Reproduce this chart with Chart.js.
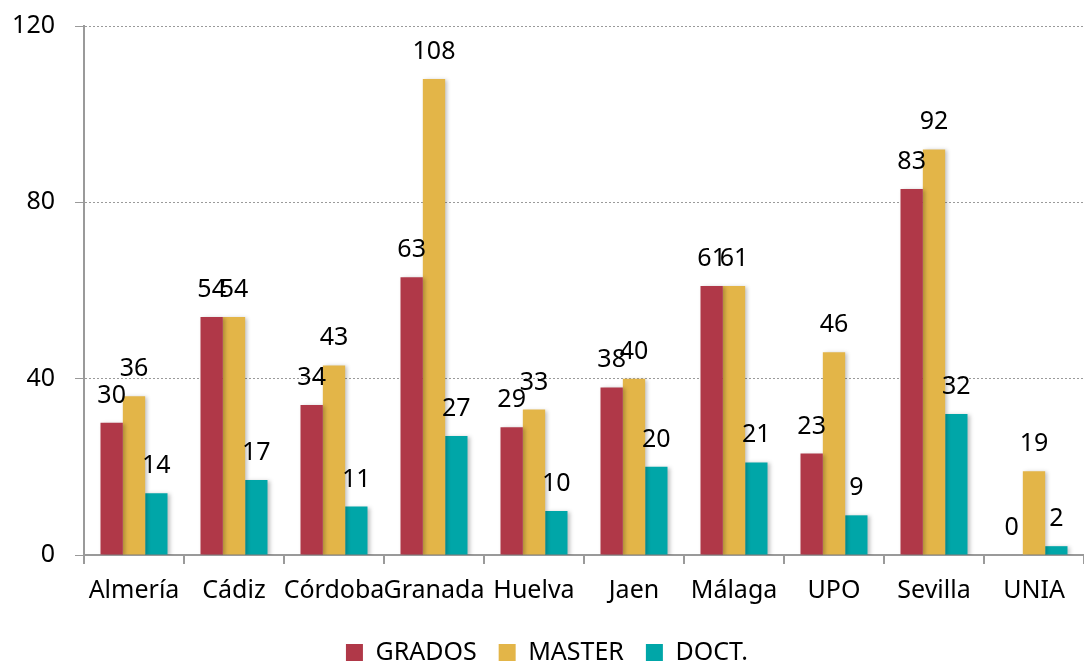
<!DOCTYPE html>
<html>
<head>
<meta charset="utf-8">
<script src="https://cdn.jsdelivr.net/npm/chart.js@4/dist/chart.umd.min.js"></script>
<style>
  html, body { margin: 0; padding: 0; background: #fff; }
  #wrap { width: 1084px; height: 661px; }
</style>
</head>
<body>
<div id="wrap"><canvas id="chart"></canvas></div>
<script>
var categories = ['Almería', 'Cádiz', 'Córdoba', 'Granada', 'Huelva', 'Jaen', 'Málaga', 'UPO', 'Sevilla', 'UNIA'];
var grados = [30, 54, 34, 63, 29, 38, 61, 23, 83, 0];
var master = [36, 54, 43, 108, 33, 40, 61, 46, 92, 19];
var doct = [14, 17, 11, 27, 10, 20, 21, 9, 32, 2];
var yTicks = [0, 40, 80, 120];

var fontFamily = '"Noto Sans", "Open Sans", sans-serif';
var fontSize = 25;

// value labels above each bar
var barLabels = {
    id: 'barLabels',
    afterDatasetsDraw: function (chart) {
        var ctx = chart.ctx;
        ctx.save();
        ctx.shadowColor = 'transparent';
        ctx.font = fontSize + 'px ' + fontFamily;
        ctx.fillStyle = '#000';
        ctx.textAlign = 'center';
        ctx.textBaseline = 'alphabetic';
        chart.data.datasets.forEach(function (ds, i) {
            var meta = chart.getDatasetMeta(i);
            meta.data.forEach(function (bar, j) {
                ctx.fillText(String(ds.data[j]), bar.x, bar.y - 20);
            });
        });
        ctx.restore();
    }
};

// soft shadow under the bars
var barShadow = {
    id: 'barShadow',
    beforeDatasetsDraw: function (chart) {
        var ctx = chart.ctx;
        ctx.save();
        ctx.shadowColor = 'rgba(0,0,0,0.25)';
        ctx.shadowBlur = 4;
        ctx.shadowOffsetX = 2;
        ctx.shadowOffsetY = 1;
    },
    afterDatasetsDraw: function (chart) {
        chart.ctx.restore();
    }
};

var element = document.getElementById('chart');

new Chart(element, {
    type: 'bar',
    data: {
        labels: categories,
        datasets: [
            { label: 'GRADOS', data: grados, backgroundColor: '#B03848' },
            { label: 'MASTER', data: master, backgroundColor: '#E3B548' },
            { label: 'DOCT.', data: doct, backgroundColor: '#00A6A8' }
        ]
    },
    options: {
        responsive: true,
        maintainAspectRatio: false,
        animation: false,
        layout: {
            padding: { top: 26, right: 0, left: 10, bottom: -14 }
        },
        datasets: {
            bar: {
                categoryPercentage: 0.67,
                barPercentage: 1.0
            }
        },
        plugins: {
            legend: {
                position: 'bottom',
                labels: {
                    font: { size: fontSize, family: fontFamily },
                    color: '#000',
                    boxWidth: 17,
                    boxHeight: 17,
                    padding: 22
                }
            },
            tooltip: { enabled: false }
        },
        scales: {
            x: {
                grid: {
                    offset: true,
                    drawOnChartArea: false,
                    color: '#9a9a9a',
                    lineWidth: 2,
                    tickLength: 9
                },
                border: { color: '#9a9a9a', width: 2 },
                ticks: {
                    font: { size: fontSize, family: fontFamily },
                    color: '#000',
                    maxRotation: 0,
                    autoSkip: false,
                    padding: 12
                }
            },
            y: {
                min: 0,
                max: 120,
                afterBuildTicks: function (axis) {
                    axis.ticks = yTicks.map(function (v) { return { value: v }; });
                },
                afterFit: function (scale) {
                    scale.width = 74;
                    scale.paddingTop = 0;
                },
                grid: {
                    color: '#9a9a9a',
                    lineWidth: 1,
                    tickLength: 9,
                    tickColor: '#9a9a9a'
                },
                border: { color: '#9a9a9a', width: 2, dash: [2, 2] },
                ticks: {
                    font: { size: fontSize, family: fontFamily },
                    color: '#000',
                    padding: 20
                }
            }
        }
    },
    plugins: [barShadow, barLabels]
});
</script>
</body>
</html>
